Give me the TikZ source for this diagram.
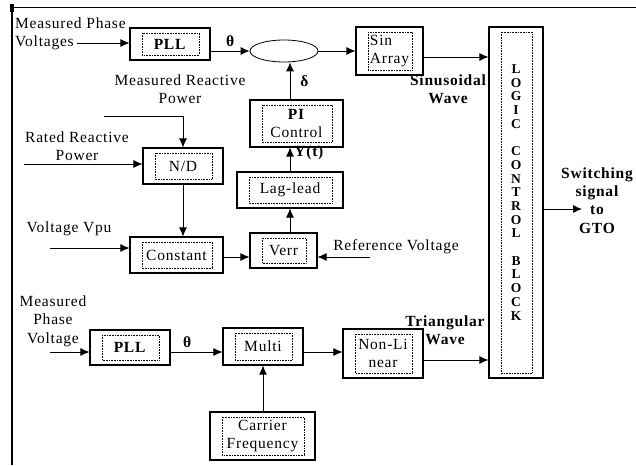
\documentclass[tikz,border=0pt]{standalone}
\usepackage{fontspec}
\setmainfont{Liberation Serif}[LetterSpace=5]
\usetikzlibrary{arrows.meta}
\usetikzlibrary{shapes.geometric}

\newcommand{\lblfont}{\fontsize{15.5}{18.5}\selectfont}
\newcommand{\boldfont}{\fontsize{15.5}{18.3}\selectfont\bfseries}

\tikzset{
  blk/.style={draw, line width=1.1pt, inner sep=0pt, align=center,
    path picture={\draw[densely dotted, line width=0.6pt]
      ([shift={(12pt,-5pt)}]path picture bounding box.north west) rectangle
      ([shift={(-11pt,5pt)}]path picture bounding box.south east);}},
  lbl/.style={inner sep=0pt, align=center},
  bl/.style={lbl, font=\boldfont},
  sig/.style={-{Latex[length=9pt,width=8pt]}, line width=0.8pt},
}

\begin{document}
\begin{tikzpicture}[x=1pt, y=-1pt, font=\lblfont]
\useasboundingbox (0,0) rectangle (636,465);

% frame
\draw[line width=1.6pt] (12,465) -- (12,8);
\draw[line width=1pt] (12,8) -- (636,8);
\fill (10,4) rectangle (14,12);

% upper chain
\node[blk, minimum width=80, minimum height=32] (pllA) at (170,44) {\textbf{PLL}};
\node[draw, ellipse, line width=0.8pt, inner sep=0pt, minimum width=68, minimum height=22] (sum) at (284,51) {};
\node[blk, minimum width=67, minimum height=48, align=left] (sin) at (389.5,51) {Sin\\Array};
\node[blk, minimum width=93, minimum height=47] (pi) at (296.5,123.5) {\textbf{PI}\\Control};
\node[blk, minimum width=106, minimum height=36] (lag) at (290,190) {Lag-lead};
\node[blk, minimum width=80, minimum height=36] (nd) at (183,166) {N/D};
\node[blk, minimum width=93, minimum height=36] (const) at (176.5,255) {Constant};
\node[blk, minimum width=67, minimum height=35] (verr) at (283.5,250.5) {Verr};

% logic block
\node[blk, minimum width=54, minimum height=351] (logic) at (516,202.5) {};
\foreach \c [count=\i from 0] in {L,O,G,I,C,{},C,O,N,T,R,O,L,{},B,L,O,C,K}
  \node[bl, font=\fontsize{13.5}{14}\selectfont\bfseries] (ch\i) at (516,{69+13.7*\i}) {\c};

% lower chain
\node[blk, minimum width=80, minimum height=35] (pllB) at (130,347.5) {\textbf{PLL}};
\node[blk, minimum width=80, minimum height=37] (multi) at (263,346.5) {Multi};
\node[blk, minimum width=105, minimum height=48] (carr) at (262.5,436) {Carrier\\Frequency};
\node[blk, minimum width=80, minimum height=49] (nonlin) at (383,353.5) {Non-Li\\near};

% texts
\node[lbl, align=left, anchor=west] (mpv) at (15,34) {Measured Phase\\Voltages};
\node[lbl] (mrp) at (180,89) {Measured Reactive\\Power};
\node[lbl] (rrp) at (77,146) {Rated Reactive\\Power};
\node[lbl] (vpu) at (69,229) {Voltage Vpu};
\node[lbl] (refv) at (396,247) {Reference Voltage};
\node[bl] (sinw) at (448,89) {Sinusoidal\\Wave};
\node[lbl] (mpv2) at (53,321) {Measured\\Phase\\Voltage};
\node[bl] (triw) at (445,330) {Triangular\\Wave};
\node[bl] (sw) at (597,200.5) {Switching\\signal\\to\\GTO};

% free ends
\coordinate (vin) at (77,43);
\coordinate (qin) at (104,116);
\coordinate (rin) at (24,164);
\coordinate (uin) at (50,248);
\coordinate (rv) at (370,257);
\coordinate (vin2) at (50,352);
\coordinate (gto) at (582,209);

% connectors
\draw[sig] (vin) -- (vin -| pllA.west);
\draw[sig] (pllA.east |- sum) -- (sum.west) node[midway, above=4pt, bl]{θ};
\draw[sig] (sum.east) -- (sin.west);
\draw[sig] ([yshift=-6pt]sin.east) -- ([yshift=-6pt]sin.east -| logic.west);
\draw[sig] (pi.north -| lag.north) -- (sum.south -| lag.north) node[midway, right=10pt, bl]{δ};
\draw[sig] (lag.north) -- (lag.north |- pi.south) node[pos=0.8, right=4pt, bl]{Y(t)};
\draw[sig] (verr.north -| lag.south) -- (lag.south);
\draw[sig] (qin) -| (nd.north);
\draw[sig] (rin) -- (rin -| nd.west);
\draw[sig] (nd.south) -- (nd.south |- const.north);
\draw[sig] (uin) -- (uin -| const.west);
\draw[sig] ([yshift=-2pt]const.east) -- ([yshift=-2pt]const.east -| verr.west);
\draw[sig] (rv) -- (rv -| verr.east);

\draw[sig] (vin2) -- (vin2 -| pllB.west);
\draw[sig] (pllB.east |- vin2) -- (multi.west |- vin2) node[pos=0.32, above=4pt, bl]{θ};
\draw[sig] (carr.north -| multi.south) -- (multi.south);
\draw[sig] (multi.east |- vin2) -- (nonlin.west |- vin2);
\draw[sig] ([yshift=-6.5pt]nonlin.east) -- ([yshift=-6.5pt]nonlin.east -| logic.west);
\draw[sig] (logic.east |- gto) -- (gto);
\end{tikzpicture}
\end{document}
